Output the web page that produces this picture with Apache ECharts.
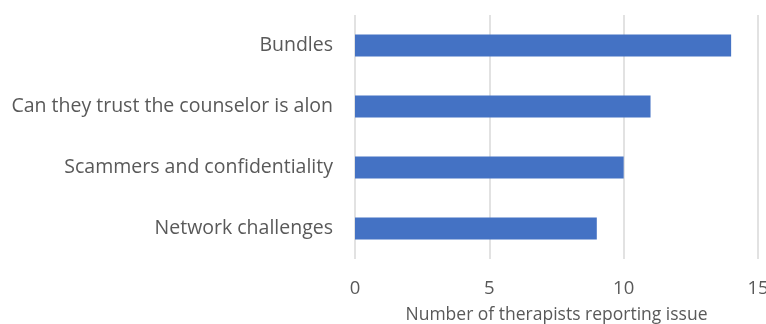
<!DOCTYPE html>
<html>
<head>
<meta charset="utf-8">
<script src="https://cdn.jsdelivr.net/npm/echarts@6/dist/echarts.min.js"></script>
<style>
  html, body { margin: 0; padding: 0; background: #ffffff; }
  #chart { width: 766px; height: 324px; }
</style>
</head>
<body>
<div id="chart"></div>
<script>
// Issues reported, listed bottom-to-top as the category axis draws them
const categories = [
  'Network challenges',
  'Scammers and confidentiality',
  'Can they trust the counselor is alon',
  'Bundles'
];
const therapistCounts = [9, 10, 11, 14];
const xTicks = { min: 0, max: 15, interval: 5 };
const xAxisTitle = 'Number of therapists reporting issue';

const textColor = '#595959';
const fontFamily = '"Open Sans", "Noto Sans", sans-serif';

const chart = echarts.init(document.getElementById('chart'), null, { renderer: 'canvas' });
chart.setOption({
  animation: false,
  grid: {
    left: 355, right: 8, top: 15, bottom: 65,
    containLabel: false,
    outerBoundsMode: 'none'
  },
  xAxis: {
    type: 'value',
    min: xTicks.min,
    max: xTicks.max,
    interval: xTicks.interval,
    name: xAxisTitle,
    nameLocation: 'middle',
    nameGap: 47,
    nameTextStyle: { color: textColor, fontSize: 17.5, fontFamily: fontFamily },
    axisLine: { show: false },
    axisTick: { show: false },
    axisLabel: { color: textColor, fontSize: 18.5, fontFamily: fontFamily, margin: 20 },
    splitLine: { show: true, lineStyle: { color: '#d9d9d9', width: 1.5 } }
  },
  yAxis: {
    type: 'category',
    data: categories,
    axisLine: { show: false },
    axisTick: { show: false },
    axisLabel: { color: textColor, fontSize: 19.5, fontFamily: fontFamily, margin: 22 }
  },
  series: [{
    type: 'bar',
    data: therapistCounts,
    barCategoryGap: '64%',
    itemStyle: { color: '#4472c4' }
  }]
});
</script>
</body>
</html>
